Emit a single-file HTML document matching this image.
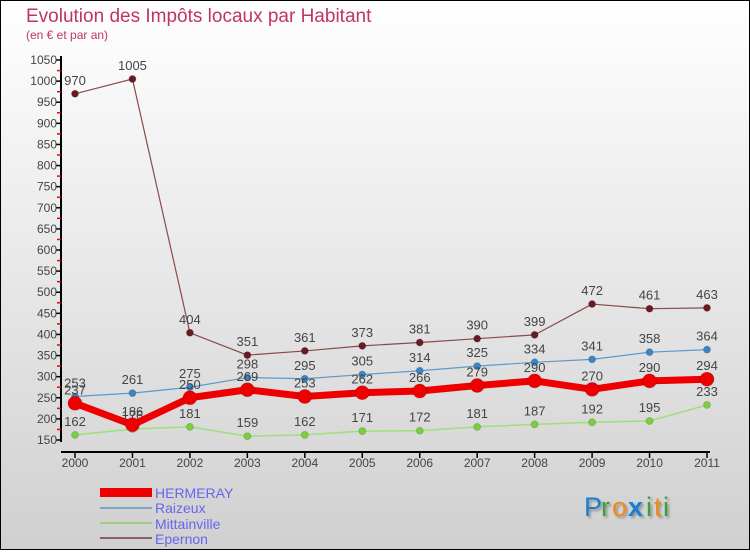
<!DOCTYPE html>
<html><head><meta charset="utf-8"><style>
body{margin:0;width:750px;height:550px;overflow:hidden;font-family:"Liberation Sans",sans-serif}
svg text{font-family:"Liberation Sans",sans-serif}
</style></head><body>
<svg id="c" width="750" height="550" xmlns="http://www.w3.org/2000/svg">
<defs><linearGradient id="bg" x1="0" y1="0" x2="0" y2="1"><stop offset="0" stop-color="#ffffff"/><stop offset="1" stop-color="#d0d0d0"/></linearGradient></defs>
<rect x="0.5" y="0.5" width="749" height="549" fill="url(#bg)" stroke="#000"/>
<text x="26" y="22" font-size="19" fill="#c0336a">Evolution des Impôts locaux par Habitant</text>
<text x="26" y="39" font-size="12" fill="#c0336a">(en € et par an)</text>
<g id="axes"></g><g id="series"></g>
<g>
<rect x="100" y="488" width="52" height="9" fill="#ee0000"/>
<text x="155" y="498" font-size="14" fill="#6666ee">HERMERAY</text>
<line x1="100" y1="508" x2="152" y2="508" stroke="#7ba6c8" stroke-width="2"/>
<text x="155" y="513" font-size="14" fill="#6666ee">Raizeux</text>
<line x1="100" y1="523" x2="152" y2="523" stroke="#9ccf80" stroke-width="2"/>
<text x="155" y="529" font-size="14" fill="#6666ee">Mittainville</text>
<line x1="100" y1="538" x2="152" y2="538" stroke="#8a6060" stroke-width="2"/>
<text x="155" y="544" font-size="14" fill="#6666ee">Epernon</text>
</g>
<g font-size="27" style="filter:drop-shadow(2px 2px 1px rgba(0,0,0,0.3))">
<text x="584" y="516" fill="#1a7fd0">P</text><text x="601" y="516" fill="#3aa03a">r</text><text x="612" y="516" fill="#f08a10">o</text><text x="628" y="516" fill="#1a7fd0" font-weight="bold">x</text><text x="646" y="516" fill="#3aa03a">i</text><text x="654" y="516" fill="#f08a10">t</text><text x="663" y="516" fill="#3aa03a">i</text>
</g>
</svg>
<script>
const years=["2000","2001","2002","2003","2004","2005","2006","2007","2008","2009","2010","2011"];
const hermeray=[237,186,250,269,253,262,266,279,290,270,290,294];
const raizeux=[253,261,275,298,295,305,314,325,334,341,358,364];
const mittainville=[162,176,181,159,162,171,172,181,187,192,195,233];
const epernon=[970,1005,404,351,361,373,381,390,399,472,461,463];
const yTicks=[150,200,250,300,350,400,450,500,550,600,650,700,750,800,850,900,950,1000,1050];
const NS="http://www.w3.org/2000/svg";
const X=i=>75+i*(707-75)/11;
const Y=v=>440-(v-150)*(380/900);
function mk(t,a,p){const e=document.createElementNS(NS,t);for(const k in a)e.setAttribute(k,a[k]);p.appendChild(e);return e;}
const ax=document.getElementById('axes');
let yl=mk('line',{x1:61,y1:56,x2:61,y2:442,stroke:'#000','stroke-width':2},ax);


let xl=mk('line',{x1:61,y1:452,x2:710,y2:452,stroke:'#000','stroke-width':2},ax);


yTicks.forEach((v,i)=>{
 mk('line',{x1:56,y1:Y(v),x2:61,y2:Y(v),stroke:'#000','stroke-width':1.5},ax);
 if(i<yTicks.length-1)mk('line',{x1:57,y1:Y(v+25),x2:61,y2:Y(v+25),stroke:'#e00','stroke-width':1.5},ax);
 const t=mk('text',{x:57,y:Y(v)+4,'font-size':12,'text-anchor':'end',fill:'#444'},ax);t.textContent=v;
 
 
});
years.forEach((y,i)=>{
 mk('line',{x1:X(i),y1:452,x2:X(i),y2:458,stroke:'#000','stroke-width':1.5},ax);
 const t=mk('text',{x:X(i),y:467,'font-size':12,'text-anchor':'middle',fill:'#444'},ax);t.textContent=y;
 
 
});
const sg=document.getElementById('series');
function series(data,name,color,dot,w,r){
 const g=mk('g',{},sg);
 
 
 mk('polyline',{points:data.map((v,i)=>X(i)+','+Y(v)).join(' '),fill:'none',stroke:color,'stroke-width':w,'stroke-linejoin':'round'},g);
 data.forEach((v,i)=>{
  const c=mk('circle',{cx:X(i),cy:Y(v),r:r,fill:dot,stroke:'rgba(0,0,0,0.15)'},g);
  
  
  const t=mk('text',{x:X(i),y:Y(v)-9,'font-size':13,'text-anchor':'middle',fill:'#444'},g);t.textContent=v;
  
  
 });
}
series(epernon,'epernon','#8a4a4a','#6a1a22',1.2,3.5);
series(mittainville,'mittainville','#9ce07c','#7ccf3c',1.5,3.5);
series(raizeux,'raizeux','#5a9ad0','#3a86c8',1.2,3.5);
series(hermeray,'hermeray','#ee0000','#ee0000',7,7);
</script>
</body></html>
